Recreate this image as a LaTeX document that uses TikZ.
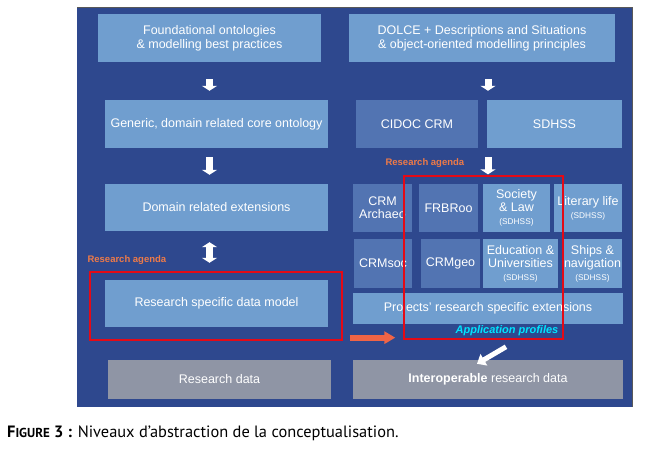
\documentclass[tikz,border=0pt]{standalone}
\usepackage{fontspec}
\setsansfont{Liberation Sans}
\newfontfamily\capfont{PT Sans}
\usetikzlibrary{positioning, arrows.meta}

\definecolor{slideblue}{RGB}{46,72,142}
\definecolor{boxlight}{RGB}{112,158,207}
\definecolor{boxdark}{RGB}{82,116,178}
\definecolor{boxgrey}{RGB}{143,149,165}
\definecolor{agendaorange}{RGB}{238,122,72}
\definecolor{framered}{RGB}{228,10,22}
\definecolor{profilecyan}{RGB}{0,228,255}
\definecolor{arroworange}{RGB}{240,100,70}

\tikzset{
  box/.style={rectangle, inner sep=0pt, align=center, text=white,
    font=\sffamily\fontsize{12.5}{14.3}\selectfont},
  lightbox/.style={box, fill=boxlight},
  darkbox/.style={box, fill=boxdark},
  greybox/.style={box, fill=boxgrey},
  rowbox/.style={font=\sffamily\fontsize{12.5}{13}\selectfont},
  agendabox/.style={rectangle, draw=framered, line width=1.3pt, inner sep=0pt},
  agendalabel/.style={text=agendaorange, inner sep=0pt,
    font=\sffamily\bfseries\fontsize{9.5}{11}\selectfont},
  whitearrow/.style={draw=white, line width=7pt, -{Triangle[length=5pt, width=15pt]}},
  orangearrow/.style={draw=arroworange, line width=6pt, -{Triangle[length=11pt, width=12pt]}},
}
\newcommand{\sdhsstag}{{\fontsize{8.3}{9}\selectfont (SDHSS)}}

\begin{document}
\begin{tikzpicture}[x=1pt, y=-1pt]
\useasboundingbox (0,0) rectangle (648,452);

%slide
\fill[slideblue] (77,7) rectangle (632,407);
\draw[black!65, line width=0.8pt] (77,7) -- (632,7) -- (632,407);

%left column
\node[lightbox, minimum width=223pt, minimum height=48pt] (found) at (209.5,38)
  {Foundational ontologies\\\& modelling best practices};
\node[lightbox, minimum width=223pt, minimum height=48pt] (core) at (216.5,124)
  {Generic, domain related core ontology};
\node[lightbox, minimum width=223pt, minimum height=47pt] (domain) at (216.5,207.5)
  {Domain related extensions};
\node[lightbox, minimum width=223pt, minimum height=47pt] (rsdm) at (216.5,303.5)
  {Research specific data model};
\node[greybox, minimum width=223pt, minimum height=39pt] (rdata) at (219.5,379.5)
  {Research data};

%right column
\node[lightbox, minimum width=266pt, minimum height=48pt] (dolce) at (482,38)
  {DOLCE + Descriptions and Situations\\\& object-oriented modelling principles};
\node[darkbox, minimum width=122pt, minimum height=48pt] (cidoc) at (417,124) {CIDOC CRM};
\node[lightbox, minimum width=135pt, minimum height=48pt] (sdhss) at (554.5,124) {SDHSS};

\node[darkbox, rowbox, minimum width=59pt, minimum height=48pt] (crmarch) at (382.5,208) {CRM\\Archaeo};
\node[darkbox, rowbox, minimum width=59pt, minimum height=48pt] (frbroo) at (448.5,208) {FRBRoo};
\node[lightbox, rowbox, minimum width=67pt, minimum height=48pt] (society) at (516.5,208)
  {Society\\\& Law\\\sdhsstag};
\node[lightbox, rowbox, minimum width=68pt, minimum height=48pt] (literary) at (588,208)
  {Literary life\\\sdhsstag};

\node[darkbox, rowbox, minimum width=58pt, minimum height=49pt] (crmsoc) at (383,263.5) {CRMsoc};
\node[darkbox, rowbox, minimum width=59pt, minimum height=49pt] (crmgeo) at (450.5,263.5) {CRMgeo};
\node[lightbox, rowbox, minimum width=75pt, minimum height=49pt] (educ) at (520.5,263.5)
  {Education \&\\Universities\\\sdhsstag};
\node[lightbox, rowbox, minimum width=59pt, minimum height=49pt] (ships) at (592.5,263.5)
  {Ships \&\\navigation\\\sdhsstag};

\node[lightbox, minimum width=270pt, minimum height=31pt] (projects) at (488,308.5)
  {Projects' research specific extensions};
\node[greybox, minimum width=270pt, minimum height=39pt] (interop) at (488,379.5)
  {\textbf{Interoperable} research data};

%research agenda frames
\node[agendabox, minimum width=252pt, minimum height=68pt] (agenda1) at (216,306) {};
\node[agendabox, minimum width=159pt, minimum height=163pt] (agenda2) at (483.5,257.5) {};
\node[agendalabel, anchor=south west] (agendatxt1) at ([xshift=-2pt, yshift=7pt]agenda1.north west)
  {Research agenda};
\node[agendalabel, anchor=south west] (agendatxt2) at ([xshift=-18pt, yshift=8pt]agenda2.north west)
  {Research agenda};
\node[text=profilecyan, inner sep=0pt, font=\sffamily\bfseries\itshape\fontsize{11}{13}\selectfont]
  (profiles) at (507,331) {Application profiles};

%arrows
\coordinate (rightaxis) at (488,0);
\draw[whitearrow, shorten <=17pt, shorten >=9pt] (found.south) -- (found.south |- core.north);
\draw[whitearrow, shorten <=9pt, shorten >=9pt] (found.south |- core.south) -- (found.south |- domain.north);
\draw[draw=white, line width=7pt, {Triangle[length=5pt, width=15pt]}-{Triangle[length=5pt, width=15pt]},
  shorten <=11pt, shorten >=17pt] (found.south |- domain.south) -- (found.south |- rsdm.north);
\draw[whitearrow, shorten <=17pt, shorten >=9pt] (rightaxis |- dolce.south) -- (rightaxis |- sdhss.north);
\draw[whitearrow, shorten <=9pt, shorten >=1pt] (rightaxis |- sdhss.south) -- (rightaxis |- agenda2.north);
\draw[orangearrow, shorten <=7pt, shorten >=8pt]
  ([yshift=3pt]agenda1.south east) -- ([yshift=3pt]agenda1.south east -| agenda2.west);
\draw[draw=white, line width=5pt, -{Triangle[length=8pt, width=13pt]}]
  ([shift={(18pt,13pt)}]interop.north) -- ([shift={(-11pt,-4pt)}]interop.north);

%caption
\node[anchor=west, inner sep=0pt] (caption) at (7,433)
  {\capfont\fontsize{16.4}{19}\selectfont\textbf{F{\fontsize{13}{19}\selectfont IGURE} 3 :}
   Niveaux d’abstraction de la conceptualisation.};
\end{tikzpicture}
\end{document}
